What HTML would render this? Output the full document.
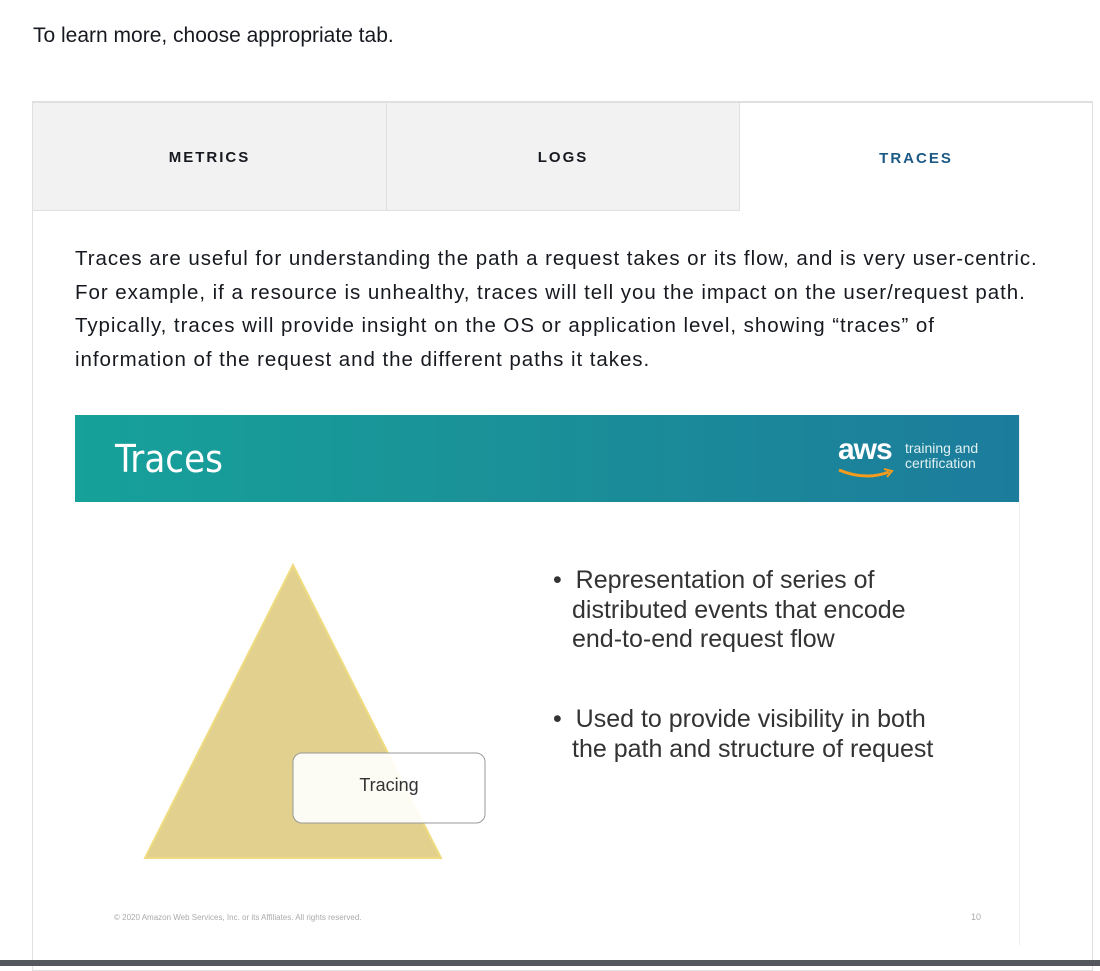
<!DOCTYPE html>
<html><head><meta charset="utf-8"><style>
body{margin:0;width:1100px;height:966px;background:#fff;font-family:"Liberation Sans",sans-serif;position:relative;overflow:hidden;color:#16191f}
.abs{position:absolute}
.tab{position:absolute;top:102px;height:109px;padding-top:2px;background:#f2f2f2;border:1px solid #e0e0e0;box-sizing:border-box;display:flex;align-items:center;justify-content:center;font-weight:bold;font-size:15px;letter-spacing:2px;color:#16191f}
</style></head><body>
<div class="abs" style="left:33px;top:24px;font-size:21px">To learn more, choose appropriate tab.</div>
<div class="abs" style="left:32px;top:101px;width:1061px;height:870px;border:1px solid #e0e0e0;box-sizing:border-box"></div>
<div class="tab" style="left:32px;width:355px">METRICS</div>
<div class="tab" style="left:386px;width:354px">LOGS</div>
<div class="tab" style="left:739px;width:354px;background:#fff;border-bottom:none;color:#1c5a85">TRACES</div>
<div class="abs" style="left:75px;top:242px;white-space:nowrap;font-size:20.5px;letter-spacing:0.95px;line-height:33.5px">Traces are useful for understanding the path a request takes or its flow, and is very user-centric.<br>For example, if a resource is unhealthy, traces will tell you the impact on the user/request path.<br>Typically, traces will provide insight on the OS or application level, showing “traces” of<br>information of the request and the different paths it takes.</div>
<div class="abs" style="left:75px;top:415px;width:944px;height:530px;background:#fff;border-right:1px solid #eee">
 <div class="abs" style="left:0;top:0;width:944px;height:87px;background:linear-gradient(90deg,#16a19a 0%,#1a9198 45%,#1c7c9c 100%)"></div>
 <div class="abs" style="left:40px;top:22px;font-size:38px;color:#fff;font-family:'DejaVu Sans Condensed','Liberation Sans',sans-serif;font-weight:300">Traces</div>
 <div class="abs" style="left:763px;top:18px;font-size:30px;color:#fff;font-weight:bold;letter-spacing:-1px">aws</div>
 <svg class="abs" style="left:762px;top:52px" width="60" height="14"><path d="M2 3 Q28 14 52 5" stroke="#f29b1d" stroke-width="3" fill="none"/><path d="M47 2 L55 4 L50 10" stroke="#f29b1d" stroke-width="2" fill="none"/></svg>
 <div class="abs" style="left:830px;top:26px;font-size:14px;line-height:15px;color:#e0f0f2">training and<br>certification</div>
 <svg class="abs" style="left:0;top:0" width="944" height="530"><polygon points="218,150 70,443 366,443" fill="#e2d08e" stroke="#f0dc80" stroke-width="2"/><rect x="218" y="338" width="192" height="70" rx="9" fill="rgba(255,255,255,0.9)" stroke="#999"/></svg>
 <div class="abs" style="left:218px;top:360px;width:192px;text-align:center;font-size:18px;color:#333">Tracing</div>
 <div class="abs" style="left:478px;top:151px;font-size:25px;line-height:29.5px;color:#333;white-space:nowrap">•&nbsp;&nbsp;Representation of series of<br><span style="padding-left:19px">distributed events that encode</span><br><span style="padding-left:19px">end-to-end request flow</span></div>
 <div class="abs" style="left:478px;top:290px;font-size:25px;line-height:29.5px;color:#333;white-space:nowrap">•&nbsp;&nbsp;Used to provide visibility in both<br><span style="padding-left:19px">the path and structure of request</span></div>
 <div class="abs" style="left:39px;top:498px;font-size:8px;color:#aaa">© 2020 Amazon Web Services, Inc. or its Affiliates. All rights reserved.</div>
 <div class="abs" style="left:896px;top:497px;font-size:9px;color:#aaa">10</div>
</div>
<div class="abs" style="left:0;top:960px;width:1100px;height:6px;background:#54585c"></div>
</body></html>
